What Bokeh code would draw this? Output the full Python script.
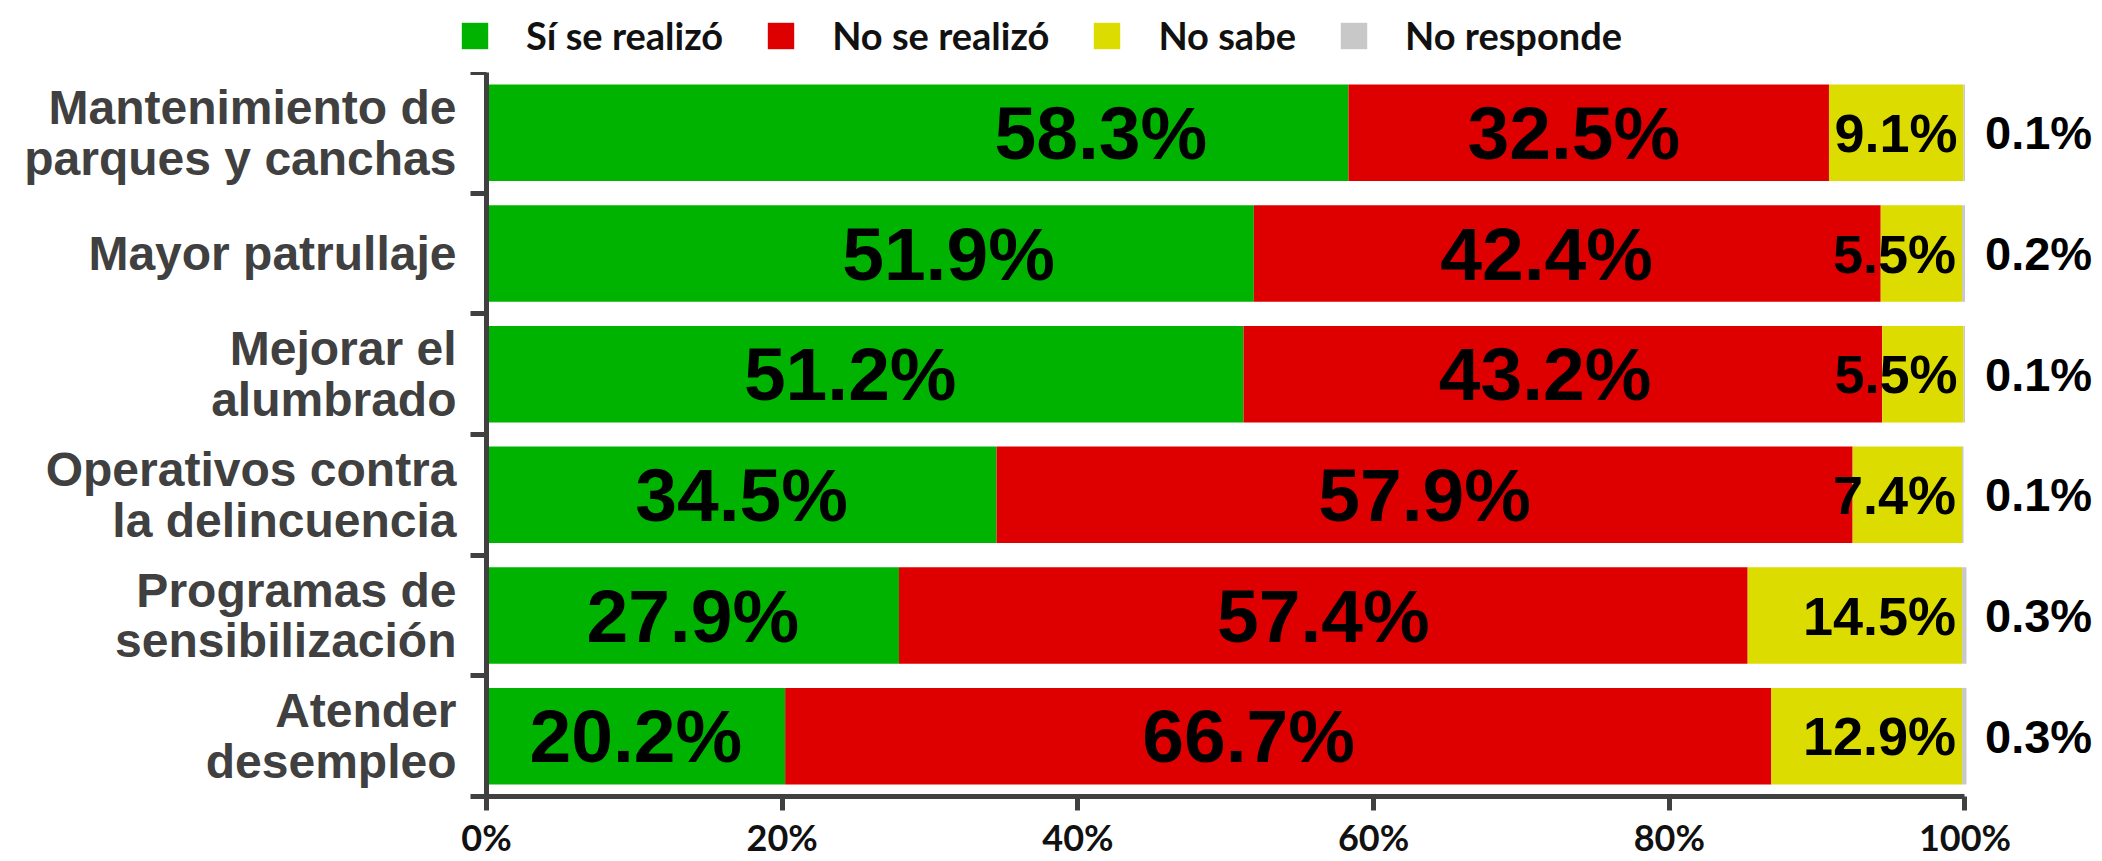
from bokeh.plotting import figure
from bokeh.layouts import column
from bokeh.models import (Range1d, LinearAxis, FixedTicker, ColumnDataSource, Legend)
from bokeh.core.properties import value
from bokeh.embed import file_html
from bokeh.resources import INLINE

# ---------------- data ----------------
categories = ["Mantenimiento de\nparques y canchas", "Mayor patrullaje", "Mejorar el\nalumbrado",
              "Operativos contra\nla delincuencia", "Programas de\nsensibilización", "Atender\ndesempleo"]
si_se_realizo = [58.3, 51.9, 51.2, 34.5, 27.9, 20.2]
no_se_realizo = [32.5, 42.4, 43.2, 57.9, 57.4, 66.7]
no_sabe = [9.1, 5.5, 5.5, 7.4, 14.5, 12.9]
no_responde = [0.1, 0.2, 0.1, 0.1, 0.3, 0.3]
series_names = ["Sí se realizó", "No se realizó", "No sabe", "No responde"]
x_ticks = [0, 20, 40, 60, 80, 100]
x_tick_labels = ["0%", "20%", "40%", "60%", "80%", "100%"]

# ---------------- style ----------------
colors = ["#00B300", "#DE0000", "#DCDC00", "#C8C8C8"]
axis_color = "#404040"
green_nudge = [12.4, 5.3, -1.0, 0.0, 0.0, 0.0]   # label shifts (percentage points)
red_nudge = [-1.0, -1.4, -1.2, 0.0, 0.0, -2.0]
ARIAL = "Liberation Sans"
LATO = "Lato"
X_VIEW_END = 109.3   # room right of 100% for the outside labels
W, H_LEG, H_MAIN = 2102, 72, 789

n = len(categories)
ypos = [n - i - 0.5 for i in range(n)]          # first category on top
bounds = [float(i) for i in range(n + 1)]

keys = ["si", "no", "ns", "nr"]
src = ColumnDataSource(dict(y=ypos, si=si_se_realizo, no=no_se_realizo,
                            ns=no_sabe, nr=no_responde))

p = figure(width=W, height=H_MAIN, y_range=Range1d(0, n),
           x_range=Range1d(0, X_VIEW_END), output_backend="svg", toolbar_location=None,
           y_axis_location=None, x_axis_location="below",
           min_border_left=486, min_border_right=0, min_border_top=0, min_border_bottom=64)
p.frame_align = False
p.outline_line_color = None
p.xgrid.visible = False
p.ygrid.visible = False
p.background_fill_color = "white"
p.border_fill_color = "white"

rs = p.hbar_stack(keys, y="y", height=0.8, color=colors, line_color=None, source=src)

# boundary ticks axis (inner)
tick_axis = LinearAxis(ticker=FixedTicker(ticks=bounds),
                       major_label_overrides={b: "" for b in bounds},
                       major_tick_out=16, major_tick_in=0, minor_tick_line_color=None,
                       axis_line_color=axis_color, axis_line_width=5,
                       major_tick_line_color=axis_color, major_tick_line_width=5,
                       major_label_standoff=0)
p.add_layout(tick_axis, "left")

# category labels axis (outer)
cat_axis = LinearAxis(ticker=FixedTicker(ticks=ypos),
                      major_label_overrides={y: c for y, c in zip(ypos, categories)},
                      major_tick_line_color=None, major_tick_out=0, major_tick_in=0,
                      minor_tick_line_color=None,
                      axis_line_color=None, major_label_standoff=14,
                      major_label_text_font=ARIAL,
                      major_label_text_font_style="bold",
                      major_label_text_font_size="48px",
                      major_label_text_color=axis_color,
                      major_label_text_line_height=0.95)
p.add_layout(cat_axis, "left")

xa = p.xaxis[0]
xa.bounds = (0, 100)
xa.ticker = FixedTicker(ticks=x_ticks)
xa.major_label_overrides = {t: l for t, l in zip(x_ticks, x_tick_labels)}
xa.minor_tick_line_color = None
xa.axis_line_color = axis_color
xa.axis_line_width = 5
xa.major_tick_line_color = axis_color
xa.major_tick_line_width = 5
xa.major_tick_out = 14
xa.major_tick_in = 0
xa.major_label_standoff = 4
xa.major_label_text_font = LATO
xa.major_label_text_font_style = "bold"
xa.major_label_text_font_size = "36px"
xa.major_label_text_color = "#111111"

# ---------------- value labels ----------------
green_x = [v / 2 + d for v, d in zip(si_se_realizo, green_nudge)]
red_x = [s + v / 2 + d for s, v, d in zip(si_se_realizo, no_se_realizo, red_nudge)]
yellow_x = [s + m + v for s, m, v in zip(si_se_realizo, no_se_realizo, no_sabe)]
right_x = [100.0 for _ in categories]

def fmt(vals):
    return [f"{v:.1f}%" for v in vals]

lab_src = ColumnDataSource(dict(y=ypos, gx=green_x, rx=red_x, yx=yellow_x, ox=right_x,
                                gt=fmt(si_se_realizo), rt=fmt(no_se_realizo),
                                yt=fmt(no_sabe), ot=fmt(no_responde)))

common = dict(y="y", source=lab_src, text_font=value(ARIAL),
              text_font_style="bold", text_color="black", text_baseline="middle")
p.text(x="gx", text="gt", text_align="center", text_font_size="75px", **common)
p.text(x="rx", text="rt", text_align="center", text_font_size="75px", **common)
p.text(x="yx", text="yt", text_align="right", x_offset=-6, text_font_size="54px", **common)
p.text(x="ox", text="ot", text_align="left", x_offset=20, text_font_size="47px", **common)

# ---------------- legend strip (separate figure above the chart) ----------------
lf = figure(width=W, height=H_LEG, x_range=Range1d(0, W), y_range=Range1d(0, H_LEG),
            output_backend="svg", toolbar_location=None, x_axis_location=None,
            y_axis_location=None, min_border=0)
lf.frame_align = False
lf.outline_line_color = None
lf.xgrid.visible = False
lf.ygrid.visible = False
lf.background_fill_color = "white"
lf.border_fill_color = "white"
# legend-only swatch renderers (their single bar lies outside the visible strip)
swatch_src = ColumnDataSource(dict(y=[-100.0], right=[0.0]))
swatches = [lf.hbar(y="y", right="right", height=1, fill_color=c, line_color=None,
                    source=swatch_src) for c in colors]
legend = Legend(items=[(nm, [r]) for nm, r in zip(series_names, swatches)],
                orientation="horizontal", location=(458, 14),
                glyph_width=33, glyph_height=33, label_standoff=35, spacing=41,
                padding=0, margin=0, border_line_color=None, background_fill_alpha=0,
                label_text_font=LATO, label_text_font_style="bold",
                label_text_font_size="38px", label_text_color="#111111", label_height=33)
lf.add_layout(legend)

layout = column(lf, p, spacing=0)
open("out.html", "w").write(file_html(layout, INLINE))
